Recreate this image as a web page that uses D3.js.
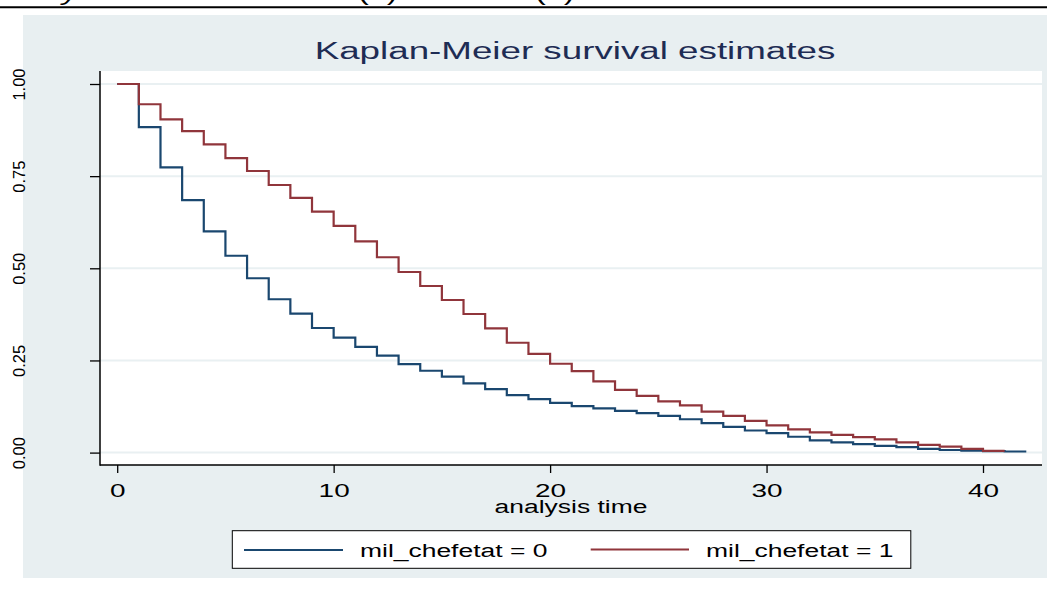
<!DOCTYPE html>
<html>
<head>
<meta charset="utf-8">
<script src="https://cdn.jsdelivr.net/npm/d3@7"></script>
<style>
  html, body { margin: 0; padding: 0; background: #ffffff; }
  svg { display: block; font-family: "Liberation Sans", Arial, sans-serif; }
</style>
</head>
<body>
<svg id="chart" width="1047" height="590"></svg>
<script>
// ---- data ----
const chartTitle = "Kaplan-Meier survival estimates";
const xAxisTitle = "analysis time";
const seriesNames = ["mil_chefetat = 0", "mil_chefetat = 1"];
const xTicks = [0, 10, 20, 30, 40];
const yTicks = [0, 0.25, 0.5, 0.75, 1];

// survival estimate after each event time (step function)
const timesGroup0 = [0,1,2,3,4,5,6,7,8,9,10,11,12,13,14,15,16,17,18,19,20,21,22,23,24,25,26,27,28,29,30,31,32,33,34,35,36,37,38,39,40,41,42];
const survGroup0  = [1.000,0.883,0.774,0.685,0.600,0.534,0.473,0.416,0.377,0.338,0.312,0.287,0.263,0.240,0.222,0.206,0.188,0.172,0.156,0.145,0.135,0.126,0.120,0.113,0.107,0.0995,0.0905,0.080,0.070,0.060,0.053,0.043,0.033,0.028,0.023,0.018,0.015,0.010,0.007,0.005,0.004,0.003,0.003];
const timesGroup1 = [0,1,2,3,4,5,6,7,8,9,10,11,12,13,14,15,16,17,18,19,20,21,22,23,24,25,26,27,28,29,30,31,32,33,34,35,36,37,38,39,40,41];
const survGroup1  = [1.000,0.945,0.904,0.872,0.836,0.799,0.764,0.726,0.691,0.654,0.615,0.573,0.530,0.490,0.452,0.414,0.376,0.337,0.298,0.268,0.241,0.221,0.193,0.170,0.154,0.139,0.128,0.111,0.0995,0.086,0.074,0.063,0.055,0.048,0.042,0.036,0.028,0.021,0.016,0.010,0.0046,0.0046];
const seriesColors = ["#1a476f", "#90353b"];

// ---- layout ----
const svg = d3.select("#chart");
const W = 1047, H = 590;
const plot = { left: 100, right: 1042, top: 71, bottom: 465 };
const panelColor = "#e8eff1";
const gridColor = "#e9f0f2";
const SX = 1.47; // horizontal stretch of the original text

const x = d3.scaleLinear().domain([0, 40]).range([117.2, 983]);
const y = d3.scaleLinear().domain([0, 1]).range([452.6, 84]);

// top cut-off strip
svg.append("rect").attr("x", 0).attr("y", 0).attr("width", W).attr("height", H).attr("fill", "#ffffff");
const topTxt = svg.append("g").attr("fill", "#000");
[["y", 62, "italic"], ["(1)", 358, "normal"], ["(2)", 535, "normal"]].forEach(([t, px, st]) => {
  topTxt.append("text")
    .attr("transform", `translate(${px},0) scale(${SX},1)`)
    .attr("font-size", 22).attr("font-style", st).text(t);
});
svg.append("line").attr("x1", 0).attr("x2", W).attr("y1", 7.3).attr("y2", 7.3)
  .attr("stroke", "#000").attr("stroke-width", 2);

// graph region
svg.append("rect").attr("x", 23).attr("y", 15).attr("width", W - 23).attr("height", 563)
  .attr("fill", panelColor);

// plot region
svg.append("rect").attr("x", plot.left).attr("y", plot.top)
  .attr("width", plot.right - plot.left).attr("height", plot.bottom - plot.top)
  .attr("fill", "#ffffff");

// gridlines
svg.append("g").selectAll("line").data(yTicks).join("line")
  .attr("x1", plot.left).attr("x2", plot.right)
  .attr("y1", d => y(d)).attr("y2", d => y(d))
  .attr("stroke", gridColor).attr("stroke-width", 2);

// title
svg.append("text")
  .attr("transform", `translate(575,59.3) scale(${1.5},1)`)
  .attr("text-anchor", "middle").attr("font-size", 24.5).attr("fill", "#1e2c54")
  .text(chartTitle);

// y axis
const yAxis = svg.append("g").attr("transform", `translate(${plot.left},0)`)
  .call(d3.axisLeft(y).tickValues(yTicks).tickFormat(d3.format(".2f")).tickSize(10).tickSizeOuter(0));
yAxis.select(".domain").remove();
yAxis.selectAll(".tick line").attr("stroke", "#000").attr("stroke-width", 1.3);
yAxis.selectAll(".tick text")
  .attr("x", null).attr("dy", null)
  .attr("transform", "translate(-75,0) rotate(-90)")
  .attr("text-anchor", "middle").attr("font-size", 16.5).attr("fill", "#000")
  .attr("font-family", "'Liberation Sans', Arial, sans-serif");

// x axis
const xAxis = svg.append("g").attr("transform", `translate(0,${plot.bottom})`)
  .call(d3.axisBottom(x).tickValues(xTicks).tickFormat(d3.format("d")).tickSize(8).tickSizeOuter(0));
xAxis.select(".domain").remove();
xAxis.selectAll(".tick line").attr("stroke", "#000").attr("stroke-width", 1.3);
xAxis.selectAll(".tick text")
  .attr("y", null).attr("dy", null)
  .attr("transform", `translate(0,32) scale(${SX},1)`)
  .attr("text-anchor", "middle").attr("font-size", 19).attr("fill", "#000")
  .attr("font-family", "'Liberation Sans', Arial, sans-serif");

// axis lines
svg.append("line").attr("x1", plot.left).attr("x2", plot.left)
  .attr("y1", plot.top).attr("y2", plot.bottom + 0.7)
  .attr("stroke", "#000").attr("stroke-width", 1.5);
svg.append("line").attr("x1", plot.left).attr("x2", plot.right)
  .attr("y1", plot.bottom).attr("y2", plot.bottom)
  .attr("stroke", "#000").attr("stroke-width", 1.5);

// x axis title
svg.append("text")
  .attr("transform", `translate(571,513) scale(${SX},1)`)
  .attr("text-anchor", "middle").attr("font-size", 18).attr("fill", "#000")
  .text(xAxisTitle);

// curves
const line = d3.line().x(d => x(d[0])).y(d => y(d[1])).curve(d3.curveStepAfter);
const series = [
  timesGroup0.map((t, i) => [t, survGroup0[i]]),
  timesGroup1.map((t, i) => [t, survGroup1[i]])
];
series.forEach((s, i) => {
  svg.append("path").datum(s).attr("d", line)
    .attr("fill", "none").attr("stroke", seriesColors[i]).attr("stroke-width", 2.2)
    .attr("stroke-linejoin", "miter");
});

// legend
const legend = svg.append("g");
legend.append("rect").attr("x", 232.3).attr("y", 530.7).attr("width", 678.5).attr("height", 37.6)
  .attr("fill", "#ffffff").attr("stroke", "#000").attr("stroke-width", 1);
const legItems = [
  { x1: 244, x2: 343, ly: 550, tx: 360 },
  { x1: 590.7, x2: 689, ly: 549.5, tx: 706 }
];
legItems.forEach((it, i) => {
  legend.append("line").attr("x1", it.x1).attr("x2", it.x2).attr("y1", it.ly).attr("y2", it.ly)
    .attr("stroke", seriesColors[i]).attr("stroke-width", 2.2);
  legend.append("text")
    .attr("transform", `translate(${it.tx},556.7) scale(${SX},1)`)
    .attr("font-size", 18).attr("fill", "#000")
    .text(seriesNames[i]);
});
</script>
</body>
</html>
